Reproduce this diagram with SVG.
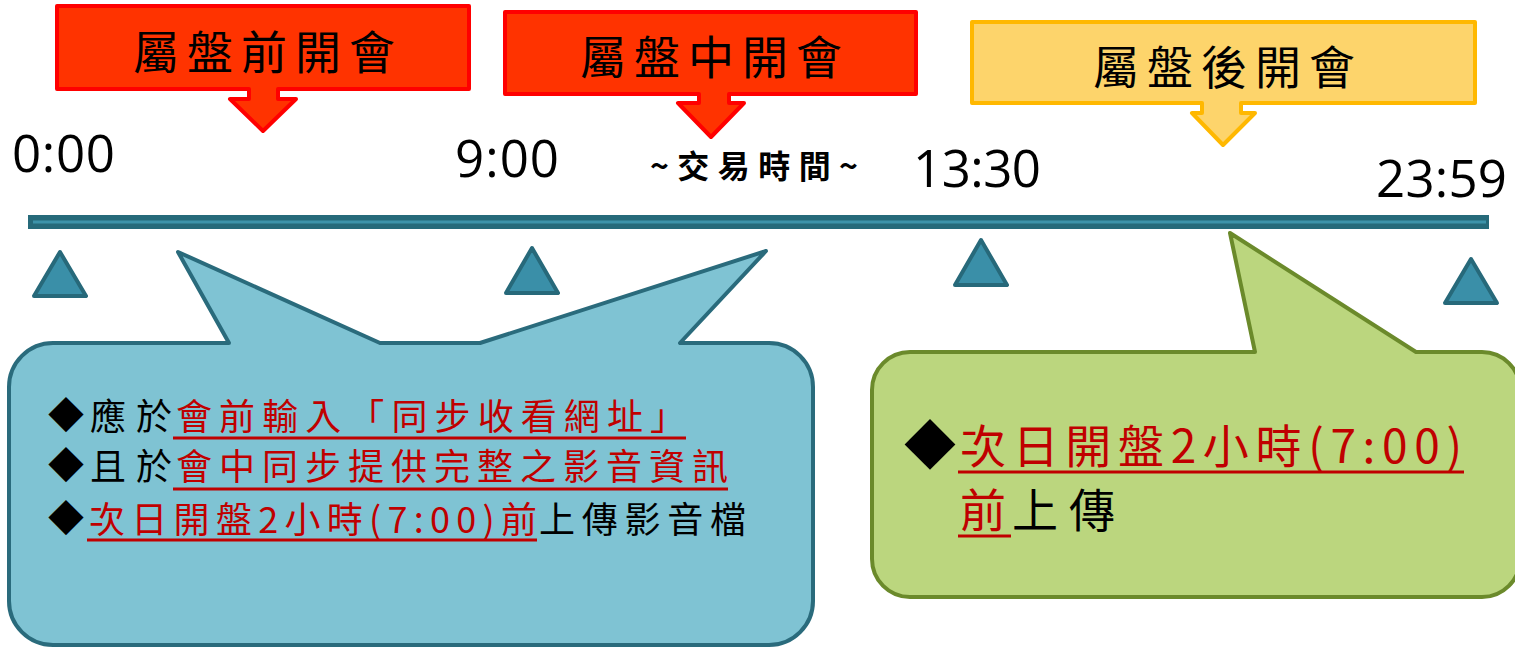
<svg xmlns="http://www.w3.org/2000/svg" width="1515" height="648" viewBox="0 0 1515 648">
<style>
.cjk{font-family:"Noto Sans CJK TC","Noto Sans CJK SC",sans-serif}
.title{font-size:46px;fill:#000}
.time{font-family:"Open Sans","Noto Sans",sans-serif;font-size:51px;fill:#000}
.redbox{fill:#FF3300;stroke:#FF0000;stroke-width:4;stroke-linejoin:round}
.yelbox{fill:#FDD46B;stroke:#FFB800;stroke-width:4;stroke-linejoin:round}
.tri{fill:#3A8FA8;stroke:#27697A;stroke-width:4;stroke-linejoin:round}
.blue{fill:#7FC3D3;stroke:#2A6B7C;stroke-width:4;stroke-linejoin:round}
.green{fill:#BBD67E;stroke:#6B8A2B;stroke-width:4;stroke-linejoin:round}
.t36{font-size:36px}
.t46{font-size:46px}
.red{fill:#C00000}
.blk{fill:#000}
.ul{stroke:#C00000;stroke-width:3}
</style>

<g id="timeline">
<rect x="28" y="215" width="1461" height="14" fill="#266A7A"/>
<line x1="33" y1="222" x2="1486" y2="222" stroke="#3D93AA" stroke-width="3"/>
</g>

<g id="label-pre">
<path class="redbox" d="M57,6 H469 V89 H278 V99 H296 L263,131 L230,99 H249 V89 H57 Z"/>
<text class="cjk title" x="133" y="69" textLength="262" lengthAdjust="spacing">屬盤前開會</text>
</g>

<g id="label-mid">
<path class="redbox" d="M505,12 H916 V94 H729 V103 H744 L711,137 L678,103 H699 V94 H505 Z"/>
<text class="cjk title" x="580" y="74" textLength="262" lengthAdjust="spacing">屬盤中開會</text>
</g>

<g id="label-post">
<path class="yelbox" d="M972,22 H1475 V103 H1241 V113 H1255 L1223,145 L1192,113 H1202 V103 H972 Z"/>
<text class="cjk title" x="1093" y="84" textLength="262" lengthAdjust="spacing">屬盤後開會</text>
</g>

<g id="trade-time">
<text class="cjk" x="650" y="178" font-size="32" font-weight="bold" textLength="208" lengthAdjust="spacing">~交易時間~</text>
</g>

<g id="times">
<text class="time" x="12" y="172" textLength="103" lengthAdjust="spacing">0:00</text>
<text class="time" x="455" y="177" textLength="104" lengthAdjust="spacing">9:00</text>
<text class="time" x="913" y="187" textLength="128" lengthAdjust="spacing">13:30</text>
<text class="time" x="1376" y="197" textLength="131" lengthAdjust="spacing">23:59</text>
</g>

<g id="ticks">
<polygon class="tri" points="60,252 86,296 34,296"/>
<polygon class="tri" points="532,248 558,293 506,293"/>
<polygon class="tri" points="981,240 1007,285 955,285"/>
<polygon class="tri" points="1471,259 1497,303 1445,303"/>
</g>

<g id="callout-blue">
<path class="blue" d="M53,343 H229 L178,252 L380,343 H480 L766,251 L680,343 H769 A44,44 0 0 1 813,387 V601 A44,44 0 0 1 769,645 H53 A44,44 0 0 1 9,601 V387 A44,44 0 0 1 53,343 Z"/>
<text class="cjk t36 blk" x="48" y="429">◆</text>
<text class="cjk t36 blk" x="90" y="430" textLength="82" lengthAdjust="spacing">應於</text>
<text class="cjk t36 red" x="176" y="430" textLength="510" lengthAdjust="spacing">會前輸入「同步收看網址」</text>
<line class="ul" x1="173" y1="438" x2="686" y2="438"/>
<text class="cjk t36 blk" x="48" y="479">◆</text>
<text class="cjk t36 blk" x="90" y="480" textLength="82" lengthAdjust="spacing">且於</text>
<text class="cjk t36 red" x="176" y="480" textLength="552" lengthAdjust="spacing">會中同步提供完整之影音資訊</text>
<line class="ul" x1="173" y1="489" x2="728" y2="489"/>
<text class="cjk t36 blk" x="48" y="532">◆</text>
<text class="cjk t36 red" x="89" y="533" textLength="448" lengthAdjust="spacing">次日開盤2小時(7:00)前</text>
<line class="ul" x1="87" y1="540" x2="537" y2="540"/>
<text class="cjk t36 blk" x="539" y="533" textLength="207" lengthAdjust="spacing">上傳影音檔</text>
</g>

<g id="callout-green">
<path class="green" d="M910,352 H1255 L1230,233 L1416,352 H1482 A38,38 0 0 1 1520,390 V559 A38,38 0 0 1 1482,597 H910 A38,38 0 0 1 872,559 V390 A38,38 0 0 1 910,352 Z"/>
<text class="cjk blk" x="904" y="464" font-size="52">◆</text>
<text class="cjk t46 red" x="960" y="463" textLength="502" lengthAdjust="spacing">次日開盤2小時(7:00)</text>
<line class="ul" x1="958" y1="472" x2="1464" y2="472"/>
<text class="cjk t46 red" x="960" y="527">前</text>
<line class="ul" x1="958" y1="536" x2="1011" y2="536"/>
<text class="cjk t46 blk" x="1012" y="527" textLength="103" lengthAdjust="spacing">上傳</text>
</g>
</svg>
